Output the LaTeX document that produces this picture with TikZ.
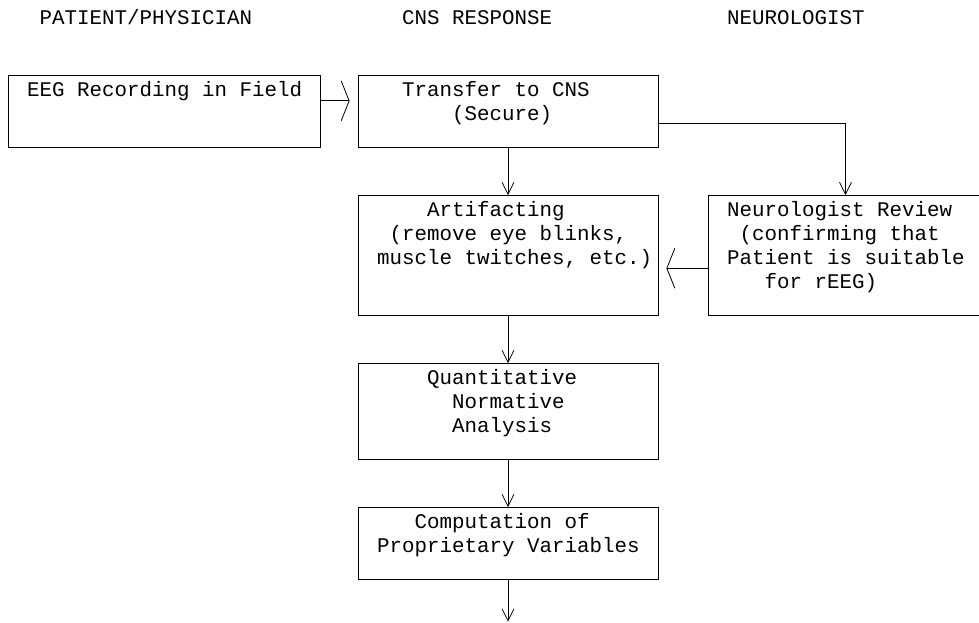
\documentclass[tikz,border=0pt]{standalone}
\usepackage{fontspec}
\setmonofont{Liberation Mono}
\usetikzlibrary{arrows.meta}

\begin{document}
\begin{tikzpicture}[x=9.375pt, y=-18pt,
    every node/.style={font=\ttfamily\fontsize{15.625pt}{18pt}\selectfont, inner sep=0pt},
    panel/.style={draw, line width=0.6pt, minimum height=#1*18pt},
    boxtext/.style={anchor=base west},
    flow/.style={line width=0.6pt, -{Straight Barb[length=9pt,width=9pt]}},
    sideflow/.style={line width=0.6pt, shorten >=6pt, -{Straight Barb[length=6pt,width=30pt]}}]
   \path[use as bounding box, clip] (-0.64,-0.75) rectangle (77.68,25.208);

   % column headings
   \node[boxtext] (hpatient) at (2.5,0.25)  {PATIENT/PHYSICIAN};
   \node[boxtext] (hcns)     at (31.5,0.25) {CNS RESPONSE};
   \node[boxtext] (hneuro)   at (57.5,0.25) {NEUROLOGIST};

   % boxes
   \node[panel=3, minimum width=25*9.375pt] (eeg)      at (12.5,3.9) {};
   \node[panel=3, minimum width=24*9.375pt] (transfer) at (40,3.9)   {};
   \node[panel=5, minimum width=24*9.375pt] (artifact) at (40,9.9)   {};
   \node[panel=5, minimum width=22*9.375pt] (review)   at (67,9.9)   {};
   \node[panel=4, minimum width=24*9.375pt] (quant)    at (40,16.4)  {};
   \node[panel=3, minimum width=24*9.375pt] (comp)     at (40,21.9)  {};
   \coordinate (outlet) at (40,25.15);

   % box texts
   \node[boxtext] (eeg1)      at (1.5,3.25)   {EEG Recording in Field};
   \node[boxtext] (transfer1) at (31.5,3.25)  {Transfer to CNS};
   \node[boxtext] (transfer2) at (35.5,4.25)  {(Secure)};
   \node[boxtext] (artifact1) at (33.5,8.25)  {Artifacting};
   \node[boxtext] (artifact2) at (30.5,9.25)  {(remove eye blinks,};
   \node[boxtext] (artifact3) at (29.5,10.25) {muscle twitches, etc.)};
   \node[boxtext] (review1)   at (57.5,8.25)  {Neurologist Review};
   \node[boxtext] (review2)   at (58.5,9.25)  {(confirming that};
   \node[boxtext] (review3)   at (57.5,10.25) {Patient is suitable};
   \node[boxtext] (review4)   at (60.5,11.25) {for rEEG)};
   \node[boxtext] (quant1)    at (33.5,15.25) {Quantitative};
   \node[boxtext] (quant2)    at (35.5,16.25) {Normative};
   \node[boxtext] (quant3)    at (35.5,17.25) {Analysis};
   \node[boxtext] (comp1)     at (32.5,21.25) {Computation of};
   \node[boxtext] (comp2)     at (29.5,22.25) {Proprietary Variables};

   % connectors
   \draw[sideflow] ([yshift=8.1pt]eeg.east) -- ([yshift=8.1pt]transfer.west);
   \draw[flow] ([yshift=-9pt]transfer.east) -| (review.north);
   \draw[sideflow] ([yshift=-9.5pt]review.west) -- ([yshift=-9.5pt]artifact.east);
   \draw[flow] (transfer) -- (artifact);
   \draw[flow] (artifact) -- (quant);
   \draw[flow] (quant) -- (comp);
   \draw[flow] (comp) -- (outlet);
\end{tikzpicture}
\end{document}
